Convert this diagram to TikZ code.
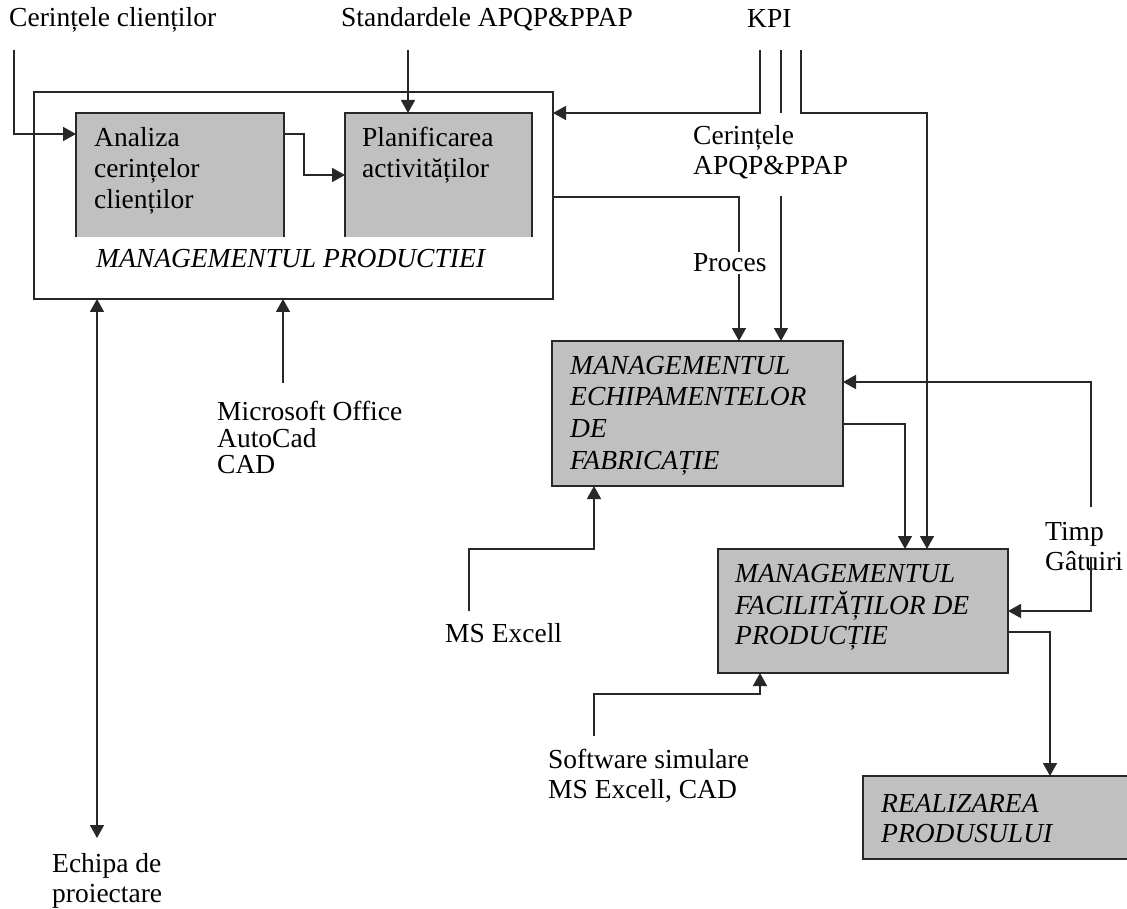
\documentclass[tikz,border=0pt]{standalone}
\usepackage{fontspec}
\setmainfont{Liberation Serif}
\usetikzlibrary{arrows.meta,calc}
\definecolor{boxgray}{RGB}{192,192,192}
\definecolor{linegray}{RGB}{40,40,40}
% left-aligned block of lines whose baseline is the first line
\newcommand{\stack}[1]{\begin{tabular}[t]{@{}l@{}}#1\end{tabular}}
\begin{document}
\begin{tikzpicture}[x=1pt,y=-1pt,
  txt/.style={inner sep=0pt, anchor=base west, font=\fontsize{27.5}{30}\selectfont},
  itx/.style={inner sep=0pt, anchor=base west, font=\fontsize{27.5}{31}\selectfont\itshape},
  wire/.style={draw=linegray, line width=1.6pt},
  arr/.style={wire, -{Triangle[length=13pt,width=14pt]}},
  darr/.style={wire, {Triangle[length=13pt,width=14pt]}-{Triangle[length=13pt,width=14pt]}},
  frame/.style={draw=linegray, line width=1.6pt, inner sep=0pt, outer sep=0pt, anchor=north west},
  greybox/.style={frame, fill=boxgray},
  openbox/.style={fill=boxgray, inner sep=0pt, outer sep=0pt, anchor=north west},
]
\useasboundingbox (0,0) rectangle (1127,909);

% production management frame with its two inner blocks
\node[frame, fill=white, minimum width=519pt, minimum height=207pt] (prod) at (34,92) {};
\node[openbox, minimum width=208pt, minimum height=124pt] (analiza) at (76,113) {};
\draw[wire] (analiza.south west) -- (analiza.north west) -- (analiza.north east) -- (analiza.south east);
\node[openbox, minimum width=187pt, minimum height=124pt] (plan) at (345,113) {};
\draw[wire] (plan.south west) -- (plan.north west) -- (plan.north east) -- (plan.south east);

% the other process blocks
\node[greybox, minimum width=291pt, minimum height=145pt] (echip) at (552,341) {};
\node[greybox, minimum width=290pt, minimum height=124pt] (facil) at (718,549) {};
\node[greybox, minimum width=290pt, minimum height=83pt] (real) at (863,776) {};

% block texts
\node[txt, font=\fontsize{27.5}{31}\selectfont] (anT) at (94,147) {\stack{Analiza\\cerințelor\\clienților}};
\node[txt, font=\fontsize{27.5}{31}\selectfont] (plT) at (362,147) {\stack{Planificarea\\activităților}};
\node[itx] (prodT) at (96,268) {MANAGEMENTUL PRODUCTIEI};
\node[itx, font=\fontsize{27.5}{31.7}\selectfont\itshape] (echT) at (570,374) {\stack{MANAGEMENTUL\\ECHIPAMENTELOR\\DE\\FABRICAȚIE}};
\node[itx, font=\fontsize{27.5}{30.5}\selectfont\itshape] (facT) at (735,582) {\stack{MANAGEMENTUL\\FACILITĂȚILOR DE\\PRODUCȚIE}};
\node[itx, font=\fontsize{27.5}{30}\selectfont\itshape] (reT) at (881,812) {\stack{REALIZAREA\\PRODUSULUI}};

% inputs and resources
\node[txt] (cc) at (9,27) {Cerințele clienților};
\node[txt] (std) at (341,27) {Standardele APQP\&PPAP};
\node[txt] (kpi) at (747,28) {KPI};
\node[txt] (capqp) at (693,145) {\stack{Cerințele\\APQP\&PPAP}};
\node[txt, font=\fontsize{27.5}{26.5}\selectfont] (msoft) at (217,420) {\stack{Microsoft Office\\AutoCad\\CAD}};
\node[txt] (msx) at (445,642) {MS Excell};
\node[txt] (soft) at (548,768) {\stack{Software simulare\\MS Excell, CAD}};
\node[txt] (echipa) at (52,872) {\stack{Echipa de\\proiectare}};
\node[txt] (timp) at (1045,540) {\stack{Timp\\Gâtuiri}};

% connector end points below the labels
\coordinate (ccA) at (14,50);
\coordinate (stdA) at (408,50);
\coordinate (k1) at (760,50);
\coordinate (k2) at (781,50);
\coordinate (k3) at (801,50);
\coordinate (k2b) at (781,196);
\coordinate (msA) at (283,383);
\coordinate (ecA) at (97,838);
\coordinate (mxA) at (469,611);
\coordinate (swA) at (594,736);
\coordinate (tpA) at (1091,507);
\coordinate (tpB) at (1091,557);

% connectors
\draw[arr] (ccA) |- ($(analiza.north west)+(0,21)$);
\draw[arr] ($(analiza.north east)+(0,21)$) -- ++(20,0) |- (plan.west);
\draw[arr] (stdA) -- (stdA |- plan.north);
\draw[arr] (k1) |- ($(prod.north east)+(0,21)$);
\draw[wire] (k2) -- ++(0,63);
\draw[arr] (k2b) -- (k2b |- echip.north);
\draw[arr] (k3) -- ++(0,63) -| ($(facil.north west)+(209,0)$);
\draw[arr] ($(prod.north east)+(0,105)$) -| ($(echip.north west)+(187,0)$);
\draw[arr] (msA) -- (msA |- prod.south);
\draw[darr] (ecA) -- (ecA |- prod.south);
\draw[arr] (mxA) -- ++(0,-62) -| ($(echip.south west)+(42,0)$);
\draw[arr] (swA) -- ++(0,-42) -| ($(facil.south west)+(42,0)$);
\draw[arr] ($(echip.north east)+(0,83)$) -| ($(facil.north west)+(187,0)$);
\draw[arr] (tpA) |- ($(echip.north east)+(0,41)$);
\draw[arr] (tpB) |- (facil.east);
\draw[arr] ($(facil.north east)+(0,83)$) -| ($(real.north west)+(187,0)$);

% label sitting on the process connector
\node[txt, fill=white, inner sep=2pt] (proc) at (691,272) {Proces};
\end{tikzpicture}
\end{document}
